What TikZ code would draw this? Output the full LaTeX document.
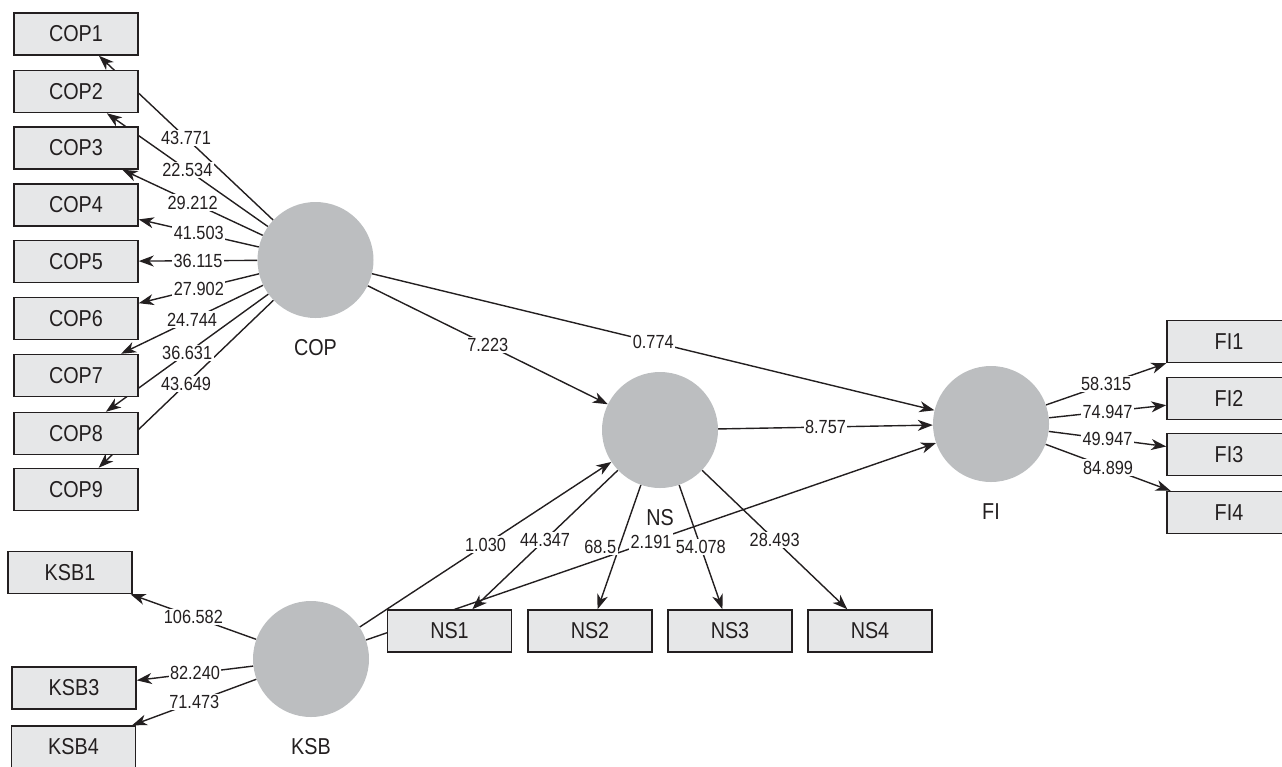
\documentclass[tikz,border=0pt]{standalone}
\usepackage{fontspec}
\setmainfont{Liberation Sans}[FakeStretch=0.86]
\usetikzlibrary{arrows.meta}
\definecolor{ink}{HTML}{231F20}
\definecolor{boxfill}{HTML}{E6E7E8}
\definecolor{lvfill}{HTML}{BCBEC0}
\pgfdeclarelayer{lines}
\pgfdeclarelayer{labels}
\pgfsetlayers{lines,labels,main}
\begin{document}
\begin{tikzpicture}[x=1pt,y=-1pt,
  ind/.style={draw=ink, line width=1.5pt, fill=boxfill, minimum width=124pt, minimum height=42pt, inner sep=0pt, text=ink, font=\fontsize{23}{26}\selectfont},
  lv/.style={circle, fill=lvfill, minimum size=116pt, inner sep=0pt},
  lvname/.style={text=ink, font=\fontsize{23}{26}\selectfont},
  arr/.style={draw=ink, line width=1.4pt, -{Stealth[length=15pt,width=11pt,inset=4.5pt]}},
  val/.style={fill=white, text=ink, inner sep=1.5pt, font=\fontsize{19}{21}\selectfont}]
\useasboundingbox (0,0) rectangle (1282,766);
\clip (0,0) rectangle (1282,766);

% latent variables
\node[lv] (cop) at (315.5,260) {};
\node[lv] (ns) at (660,430) {};
\node[lv] (fi) at (991,424) {};
\node[lv] (ksb) at (311,659) {};
\node[lvname] (copname) at (315.5,348) {COP};
\node[lvname] (nsname) at (660,518) {NS};
\node[lvname] (finame) at (991,512) {FI};
\node[lvname] (ksbname) at (311,747) {KSB};

% indicators
\foreach \n/\y in {1/34,2/91.5,3/148,4/205,5/261.5,6/318.5,7/375.5,8/433.5,9/489.5}
  \node[ind] (cop\n) at (76,\y) {COP\n};
\node[ind] (ksb1) at (70,572.5) {KSB1};
\node[ind] (ksb3) at (74,688) {KSB3};
\node[ind] (ksb4) at (73.5,747) {KSB4};
\foreach \n/\x in {1/449.5,2/590,3/730,4/870}
  \node[ind] (ns\n) at (\x,631) {NS\n};
\foreach \n/\y in {1/341.5,2/398.5,3/454.5,4/512.5}
  \node[ind] (fi\n) at (1229,\y) {FI\n};

% connectors
\begin{pgfonlayer}{lines}
\foreach \n in {1,...,9} \draw[arr] (cop) -- (cop\n);
\foreach \n in {1,3,4} \draw[arr] (ksb) -- (ksb\n);
\foreach \n in {1,...,4} \draw[arr] (ns) -- (ns\n);
\foreach \n in {1,...,4} \draw[arr] (fi) -- (fi\n);
\draw[arr] (cop) -- (ns);
\draw[arr] (cop) -- (fi);
\draw[arr] (ns) -- (fi);
\draw[arr] (ksb) -- (ns);
\draw[arr] (ksb) -- (fi);
\end{pgfonlayer}

% values
\begin{pgfonlayer}{labels}
\foreach \n/\v in {1/43.771,2/22.534,3/29.212,4/41.503,5/36.115,6/27.902,7/24.744,8/36.631,9/43.649}
  \path (cop) -- (cop\n) node[val,midway] {\v};
\foreach \n/\v in {1/106.582,3/82.240,4/71.473}
  \path (ksb) -- (ksb\n) node[val,midway] {\v};
\foreach \n/\v in {1/58.315,2/74.947,3/49.947,4/84.899}
  \path (fi) -- (fi\n) node[val,midway] {\v};
\path (ns) -- (ns1) node[val,midway] {44.347};
\path (ns) -- (ns3) node[val,midway] {54.078};
\path (ns) -- (ns4) node[val,midway] {28.493};
\path (cop) -- (ns) node[val,midway] {7.223};
\path (cop) -- (fi) node[val,midway] {0.774};
\path (ns) -- (fi) node[val,midway] {8.757};
\path (ksb) -- (ns) node[val,midway] {1.030};
\path (ns) -- (ns2) node[val,midway,xshift=-19pt] {68.5};
\path (ksb) -- (fi) node[val,midway] {2.191};
\end{pgfonlayer}
\end{tikzpicture}
\end{document}
